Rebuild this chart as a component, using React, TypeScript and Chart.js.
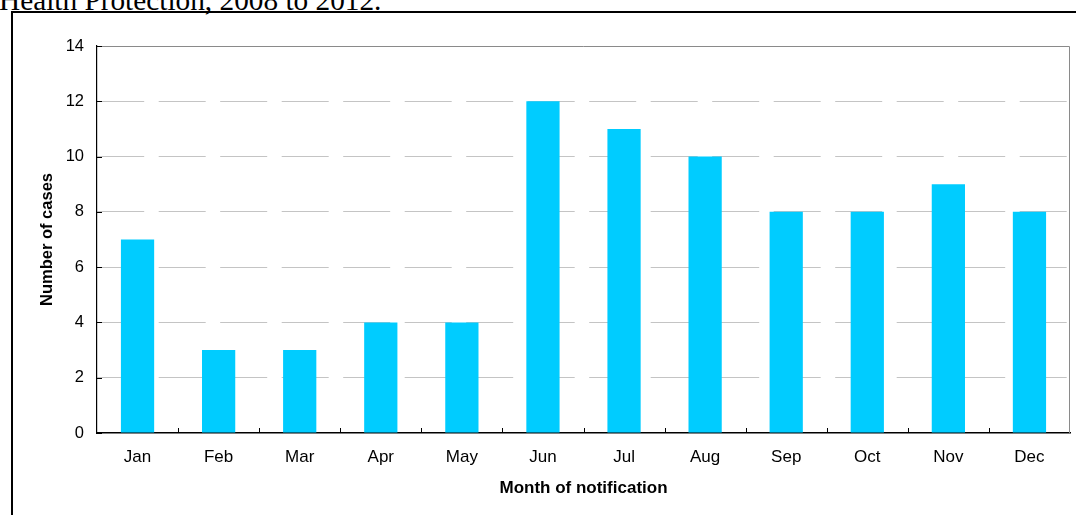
import React, { useEffect, useRef } from "react";
import { Chart, registerables } from "chart.js";

Chart.register(...registerables);

const months = ["Jan", "Feb", "Mar", "Apr", "May", "Jun", "Jul", "Aug", "Sep", "Oct", "Nov", "Dec"];
const cases = [7, 3, 3, 4, 4, 12, 11, 10, 8, 8, 9, 8];
const yMin = 0;
const yMax = 14;
const yStep = 2;
const titleText = "Health Protection, 2008 to 2012.";
const xTitle = "Month of notification";
const yTitle = "Number of cases";

const FONT = "'Liberation Sans', Arial, sans-serif";

const framePlugin = {
  id: "framePlugin",
  afterDraw(chart: any) {
    const { ctx, chartArea } = chart;
    const { left, right, top, bottom } = chartArea;
    ctx.save();
    ctx.strokeStyle = "#8a8a8a";
    ctx.lineWidth = 1;
    ctx.beginPath();
    ctx.moveTo(left, top + 0.5);
    ctx.lineTo(right - 0.5, top + 0.5);
    ctx.lineTo(right - 0.5, bottom);
    ctx.stroke();
    ctx.strokeStyle = "#000";
    ctx.lineWidth = 1;
    const y = chart.scales.y;
    y.ticks.forEach((t: any, i: number) => {
      const py = Math.round(y.getPixelForTick(i)) + 0.5;
      ctx.beginPath();
      ctx.moveTo(left, py);
      ctx.lineTo(left + 5, py);
      ctx.stroke();
    });
    const x = chart.scales.x;
    const n = months.length;
    const w = (right - left) / n;
    for (let i = 1; i < n; i++) {
      const px = Math.round(x.getPixelForValue(i) - w / 2) + 0.5;
      ctx.beginPath();
      ctx.moveTo(px, bottom);
      ctx.lineTo(px, bottom - 5);
      ctx.stroke();
    }
    ctx.restore();
  },
};

export default function App() {
  const ref = useRef<HTMLCanvasElement | null>(null);

  useEffect(() => {
    if (!ref.current) return;
    const chart = new Chart(ref.current, {
      type: "bar",
      data: {
        labels: months,
        datasets: [
          {
            data: cases,
            backgroundColor: "#00CCFF",
            borderWidth: 0,
            barPercentage: 0.41,
            categoryPercentage: 1,
          },
        ],
      },
      options: {
        animation: false,
        responsive: false,
        maintainAspectRatio: false,
        layout: { padding: { left: 0, top: 46, right: 6, bottom: 0 } },
        plugins: {
          legend: { display: false },
          tooltip: { enabled: false },
        },
        scales: {
          x: {
            grid: { display: false, drawTicks: false },
            border: { display: true, color: "#000", width: 1.5 },
            ticks: {
              color: "#000",
              padding: 14,
              font: { family: FONT, size: 17 },
              maxRotation: 0,
            },
            title: {
              display: true,
              text: xTitle,
              color: "#000",
              font: { family: FONT, size: 17, weight: "bold" },
              padding: { top: 0, bottom: 16 },
            },
            afterFit: (s: any) => {
              s.height = 82;
            },
          },
          y: {
            min: yMin,
            max: yMax,
            grid: {
              drawTicks: false,
              color: (c: any) =>
                c.tick && (c.tick.value === yMax || c.tick.value === yMin) ? "rgba(0,0,0,0)" : "#c4c4c4",
              lineWidth: 1,
            },
            border: { display: true, color: "#000", width: 1.2, dash: [47, 14.5] },
            ticks: {
              stepSize: yStep,
              color: "#000",
              padding: 13,
              font: { family: FONT, size: 16.5 },
            },
            title: {
              display: true,
              text: yTitle,
              color: "#000",
              font: { family: FONT, size: 16.5, weight: "bold" },
              padding: { top: 38, bottom: 0 },
            },
            afterFit: (s: any) => {
              s.width = 97;
            },
          },
        },
      },
      plugins: [framePlugin],
    });
    return () => chart.destroy();
  }, []);

  return (
    <div style={{ position: "fixed", left: 0, top: 0, width: 1076, height: 515, overflow: "hidden", background: "#fff" }}>
      <div
        style={{
          position: "absolute",
          left: -1,
          top: -14,
          fontFamily: "'Liberation Serif', 'Times New Roman', serif",
          fontSize: 29.3,
          lineHeight: 1,
          whiteSpace: "nowrap",
          color: "#000",
        }}
      >
        {titleText}
      </div>
      <div
        style={{
          position: "absolute",
          left: 11,
          top: 11,
          width: 1076,
          height: 515,
          borderTop: "2px solid #000",
          borderLeft: "2px solid #000",
          boxSizing: "border-box",
        }}
      />
      <canvas ref={ref} width={1076} height={515} style={{ position: "absolute", left: 0, top: 0 }} />
    </div>
  );
}
